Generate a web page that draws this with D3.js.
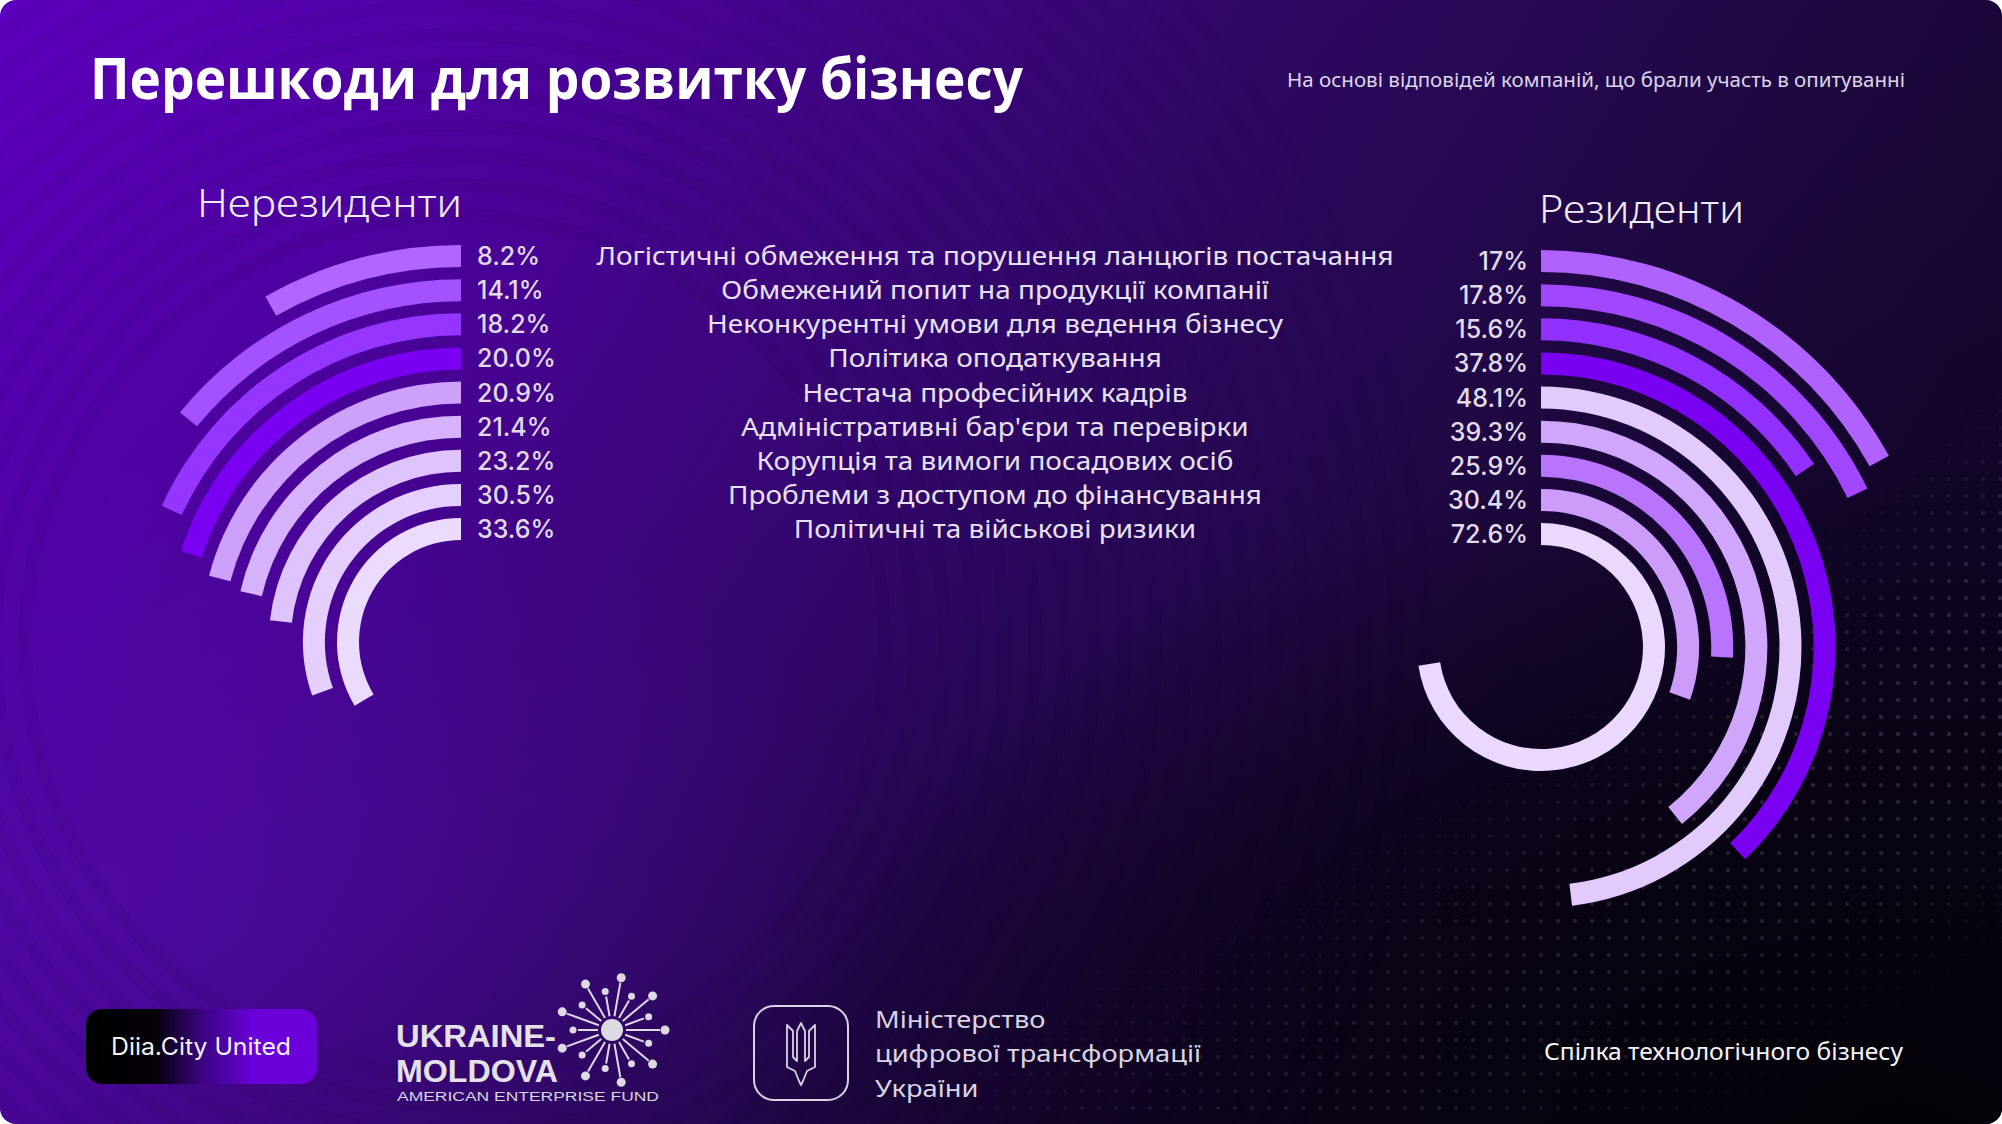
<!DOCTYPE html>
<html><head><meta charset="utf-8">
<script src="https://cdn.jsdelivr.net/npm/d3@7"></script>
<style>html,body{margin:0;padding:0;background:#ffffff;overflow:hidden}</style>
</head><body><svg id="c" width="2002" height="1124"></svg>
<script>
// ---------------- DATA ----------------
const categories = [
  "Логістичні обмеження та порушення ланцюгів постачання",
  "Обмежений попит на продукції компанії",
  "Неконкурентні умови для ведення бізнесу",
  "Політика оподаткування",
  "Нестача професійних кадрів",
  "Адміністративні бар'єри та перевірки",
  "Корупція та вимоги посадових осіб",
  "Проблеми з доступом до фінансування",
  "Політичні та військові ризики"
];
const nonResidentValues = [8.2, 14.1, 18.2, 20.0, 20.9, 21.4, 23.2, 30.5, 33.6];
const residentValues    = [17, 17.8, 15.6, 37.8, 48.1, 39.3, 25.9, 30.4, 72.6];
const nonResidentColors = ["#b266ff","#a451ff","#9436ff","#7a00f2","#cda1fb","#d6b2fc","#dec3fd","#e5cffe","#ebdbff"];
const residentColors    = ["#b062ff","#a047ff","#9230ff","#7a00f2","#e2cafd","#cfa6fb","#b874fc","#cc9cfb","#ebd8fe"];
const groupLabels = ["Нерезиденти", "Резиденти"];
const titleText = "Перешкоди для розвитку бізнесу";
const subtitleText = "На основі відповідей компаній, що брали участь в опитуванні";
const footerMinistry = ["Міністерство", "цифрової трансформації", "України"];
const footerLogoLines = ["UKRAINE-", "MOLDOVA"];
const footerRight = "Спілка технологічного бізнесу";

// ---------------- SETUP ----------------
const W = 2002, H = 1124;
const svg = d3.select("#c");
const defs = svg.append("defs");

const bg = defs.append("linearGradient").attr("id","bg").attr("x1","0").attr("y1","0").attr("x2","1").attr("y2","0.3");
[[0,"#5c00bd"],[0.3,"#4a0399"],[0.6,"#2f0866"],[0.85,"#200944"],[1,"#180735"]].forEach(s=>bg.append("stop").attr("offset",s[0]).attr("stop-color",s[1]));
const shade = defs.append("linearGradient").attr("id","shade").attr("x1","0").attr("y1","0.2").attr("x2","0.8").attr("y2","1");
[[0,"rgba(5,0,15,0)"],[0.5,"rgba(5,0,15,0.1)"],[1,"rgba(5,0,15,0.5)"]].forEach(s=>shade.append("stop").attr("offset",s[0]).attr("stop-color",s[1]));
const glowBR = defs.append("radialGradient").attr("id","glowBR").attr("cx","0.95").attr("cy","1.0").attr("r","0.6");
[[0,"rgba(3,2,6,0.92)"],[0.55,"rgba(3,2,6,0.55)"],[1,"rgba(3,2,6,0)"]].forEach(s=>glowBR.append("stop").attr("offset",s[0]).attr("stop-color",s[1]));
const glowBL = defs.append("radialGradient").attr("id","glowBL").attr("cx","0.05").attr("cy","0.8").attr("r","0.4");
[[0,"rgba(90,20,190,0.35)"],[1,"rgba(90,20,190,0)"]].forEach(s=>glowBL.append("stop").attr("offset",s[0]).attr("stop-color",s[1]));
const diia = defs.append("linearGradient").attr("id","diia").attr("x1","0").attr("y1","0").attr("x2","1").attr("y2","0");
[[0,"#000000"],[0.3,"#050008"],[0.5,"#3a0580"],[0.72,"#6a00d8"],[1,"#6c00dc"]].forEach(s=>diia.append("stop").attr("offset",s[0]).attr("stop-color",s[1]));
defs.append("clipPath").attr("id","frame").append("rect").attr("width",W).attr("height",H).attr("rx",16);

const root = svg.append("g").attr("clip-path","url(#frame)");
root.append("rect").attr("width",W).attr("height",H).attr("fill","url(#bg)");
root.append("rect").attr("width",W).attr("height",H).attr("fill","url(#shade)");
root.append("rect").attr("width",W).attr("height",H).attr("fill","url(#glowBL)");
root.append("rect").attr("width",W).attr("height",H).attr("fill","url(#glowBR)");

// ripple rings (decoration)
const ripple = root.append("g").attr("fill","none");
d3.range(430, 1000, 30).forEach((r,i)=>{
  ripple.append("circle").attr("cx",455).attr("cy",645).attr("r",r)
    .attr("stroke","rgba(25,0,60,1)").attr("stroke-opacity",0.07*(1-i/22)).attr("stroke-width",13);
});

// dotted wave surface (decoration)
const dots = root.append("g");
for (let gx = 980; gx < W; gx += 17) {
  for (let gy = 360; gy < H; gy += 17) {
    const t = (gx-980)/1022;
    const top = 1000 - t*620 + 60*Math.sin(t*3.2);
    const bot = top + 420 + t*160;
    if (gy < top || gy > bot) continue;
    const u = (gy-top)/(bot-top);
    const a = Math.sin(Math.PI*u) * (0.35 + 0.65*t);
    dots.append("circle").attr("cx",gx).attr("cy",gy).attr("r",2.2)
      .attr("fill","#8c84a8").attr("fill-opacity",a*0.28);
  }
}

// ---------------- SCALES ----------------
const angle = d3.scaleLinear().domain([0,100]).range([0, 2*Math.PI]);
const ring = d3.scaleLinear().domain([0, categories.length-1]).range([397, 124]);
const thick = 22;
const arc = d3.arc();

function drawChart(values, colors, cx, cy, dir, fmt, labelX, anchor) {
  const g = root.append("g").attr("transform",`translate(${cx},${cy})`);
  g.selectAll("path").data(values).join("path")
    .attr("d",(v,i)=>arc({innerRadius: ring(i)-thick, outerRadius: ring(i),
        startAngle: dir>0 ? 0 : -angle(v), endAngle: dir>0 ? angle(v) : 0}))
    .attr("fill",(v,i)=>colors[i]);
  root.append("g").selectAll("text").data(values).join("text")
    .attr("x", labelX).attr("y",(v,i)=>cy - ring(i) + thick/2)
    .attr("dy","0.36em").attr("text-anchor",anchor)
    .attr("font-family","Inter, 'Noto Sans', sans-serif").attr("font-weight",500)
    .attr("font-size",25).attr("fill","#e2dcea")
    .text(v=>fmt(v));
}
drawChart(nonResidentValues, nonResidentColors, 461, 642, -1, v=>d3.format(".1f")(v)+"%", 477, "start");
drawChart(residentValues, residentColors, 1541, 647, 1, v=>String(v)+"%", 1528, "end");

// category labels
const catG = root.append("g");
const cats = catG.selectAll("text").data(categories).join("text")
  .attr("x", 995).attr("y",(d,i)=>642 - ring(i) + thick/2)
  .attr("dy","0.36em").attr("text-anchor","middle")
  .attr("font-family","'Noto Sans', sans-serif").attr("font-weight",400)
  .attr("font-size",25).attr("fill","#e8e2f0").text(d=>d);
const n0 = cats.nodes()[0].getComputedTextLength();
const k = 797 / n0;
cats.each(function(){ const w=this.getComputedTextLength(); d3.select(this).attr("textLength", w*k).attr("lengthAdjust","spacingAndGlyphs"); });

function fitText(sel, w) { sel.attr("textLength", w).attr("lengthAdjust","spacingAndGlyphs"); return sel; }

// titles
fitText(root.append("text").attr("x",90).attr("y",99).attr("font-family","'Open Sans', sans-serif")
  .attr("font-weight",700).attr("font-size",58).attr("fill","#ffffff").text(titleText), 933);
fitText(root.append("text").attr("x",1287).attr("y",87).attr("font-family","'Noto Sans', sans-serif")
  .attr("font-weight",400).attr("font-size",19).attr("fill","#ddd6ea").text(subtitleText), 618);
fitText(root.append("text").attr("x",197).attr("y",217).attr("font-family","'Noto Sans', sans-serif")
  .attr("font-weight",300).attr("font-size",38).attr("fill","#f0ecf5").text(groupLabels[0]), 265);
fitText(root.append("text").attr("x",1539).attr("y",223).attr("font-family","'Noto Sans', sans-serif")
  .attr("font-weight",300).attr("font-size",38).attr("fill","#f0ecf5").text(groupLabels[1]), 205);

// ---------------- FOOTER ----------------
const f = root.append("g");
f.append("rect").attr("x",86).attr("y",1009).attr("width",231).attr("height",75).attr("rx",16).attr("fill","url(#diia)");
fitText(f.append("text").attr("x",201).attr("y",1046).attr("dy","0.36em").attr("text-anchor","middle")
  .attr("font-family","Inter, sans-serif").attr("font-size",24).attr("fill","#f2f2f2").text("Diia.City United"), 180);

footerLogoLines.forEach((s,i)=>{
  fitText(f.append("text").attr("x",396).attr("y",1047 + i*35)
    .attr("font-family","'Liberation Sans', Arial, sans-serif").attr("font-weight",700)
    .attr("font-size",31).attr("fill","#e4e2e8").text(s), [160,162][i]);
});
fitText(f.append("text").attr("x",397).attr("y",1101).attr("font-family","'Liberation Sans', Arial, sans-serif")
  .attr("font-size",12).attr("fill","#d8d6de").text("AMERICAN ENTERPRISE FUND"), 262);

const star = f.append("g").attr("transform","translate(612,1030)").attr("fill","#dcdae2").attr("stroke","#dcdae2");
star.append("circle").attr("r",11).attr("stroke","none");
d3.range(18).forEach(i=>{
  const a = i/18*2*Math.PI; const L = i%2 ? 34 : 48;
  star.append("line").attr("x1",14*Math.cos(a)).attr("y1",14*Math.sin(a)).attr("x2",L*Math.cos(a)).attr("y2",L*Math.sin(a)).attr("stroke-width",2);
  star.append("circle").attr("cx",(L+5)*Math.cos(a)).attr("cy",(L+5)*Math.sin(a)).attr("r",i%2?3.5:4.5).attr("stroke","none");
});

f.append("rect").attr("x",754).attr("y",1006).attr("width",94).attr("height",94).attr("rx",20)
  .attr("fill","none").attr("stroke","#d9d4e4").attr("stroke-width",2);
f.append("path").attr("transform","translate(801,1053)")
  .attr("d","M0,-30 L4,-22 L4,8 L8,4 L8,-22 L14,-28 L14,14 L6,18 L2,28 L0,32 L-2,28 L-6,18 L-14,14 L-14,-28 L-8,-22 L-8,4 L-4,8 L-4,-22 Z")
  .attr("fill","none").attr("stroke","#d9d4e4").attr("stroke-width",1.8).attr("stroke-linejoin","round");
const mins = f.selectAll("text.min").data(footerMinistry).join("text").attr("class","min")
  .attr("x",875).attr("y",(d,i)=>1019 + i*34.5).attr("dy","0.36em")
  .attr("font-family","'Noto Sans', sans-serif").attr("font-size",24).attr("fill","#d9d4e4").text(d=>d);
const km = 326 / mins.nodes()[1].getComputedTextLength();
mins.each(function(){ const w=this.getComputedTextLength(); d3.select(this).attr("textLength", w*km).attr("lengthAdjust","spacingAndGlyphs"); });
fitText(f.append("text").attr("x",1544).attr("y",1051).attr("dy","0.36em")
  .attr("font-family","'Noto Sans', sans-serif").attr("font-size",24).attr("fill","#f4f2f7").text(footerRight), 359);
</script></body></html>
